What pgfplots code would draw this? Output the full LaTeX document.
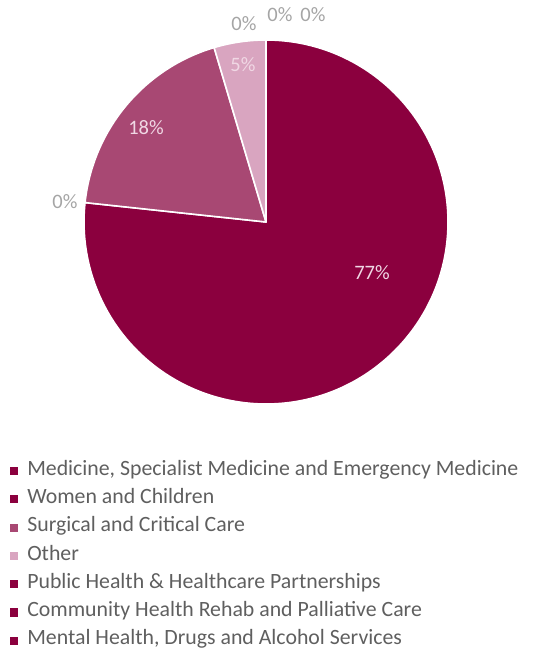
\documentclass[border=0pt]{standalone}
\usepackage{pgfplots}
\pgfplotsset{compat=1.18}
\usepackage{pgfplotstable}
\usepackage{fontspec}
\setmainfont{Carlito}
\definecolor{cMed}{RGB}{139,0,62}
\definecolor{cWom}{RGB}{139,0,62}
\definecolor{cSur}{RGB}{168,72,115}
\definecolor{cOth}{RGB}{217,165,192}
\definecolor{cPub}{RGB}{139,0,62}
\definecolor{cCom}{RGB}{139,0,62}
\definecolor{cMen}{RGB}{139,0,62}
\definecolor{legtext}{RGB}{95,95,95}
\definecolor{zerotext}{RGB}{165,165,165}
\definecolor{intext}{RGB}{240,215,228}

\pgfplotstableread{
idx value
0 76.7
1 0
2 18.7
3 4.6
4 0
5 0
6 0
}\piedata

\newcommand\slice[2]{%
  \fill[#2,draw=white,line width=1.6pt,line join=round]
    (axis cs:266,432) -- ++(\csname sA#1\endcsname:182pt)
    arc[start angle=\csname sA#1\endcsname, end angle=\csname eA#1\endcsname, radius=182pt] -- cycle;}

\newcommand\legsq[1]{\addlegendimage{legend image code/.code={\fill[#1] (0pt,-3.6pt) rectangle (7.2pt,3.6pt);}}}

\begin{document}
\begin{tikzpicture}
\xdef\cum{90}
\foreach \i in {0,...,6}{%
  \pgfplotstablegetelem{\i}{value}\of\piedata
  \pgfmathsetmacro\endang{\cum-3.6*\pgfplotsretval}%
  \expandafter\xdef\csname sA\i\endcsname{\cum}%
  \expandafter\xdef\csname eA\i\endcsname{\endang}%
  \xdef\cum{\endang}%
}
\begin{axis}[
  name=ax,
  width=544pt, height=654pt, scale only axis,
  xmin=0, xmax=544, ymin=0, ymax=654,
  hide axis, clip=false,
  legend style={
    at={(axis cs:10,193)}, anchor=north west,
    draw=none, fill=none, inner sep=0pt,
    font=\fontsize{21.8}{24}\selectfont, text=legtext,
    row sep=9.3pt,
    nodes={inner xsep=0pt, inner ysep=0pt, text height=14pt, text depth=5pt},
  },
  legend cell align=left,
]
\slice{0}{cMed}
\slice{2}{cSur}
\slice{3}{cOth}

\legsq{cMed}\addlegendentry{\hspace{9.5pt}Medicine, Specialist Medicine and Emergency Medicine}
\legsq{cWom}\addlegendentry{\hspace{9.5pt}Women and Children}
\legsq{cSur}\addlegendentry{\hspace{9.5pt}Surgical and Critical Care}
\legsq{cOth}\addlegendentry{\hspace{9.5pt}Other}
\legsq{cPub}\addlegendentry{\hspace{9.5pt}Public Health \& Healthcare Partnerships}
\legsq{cCom}\addlegendentry{\hspace{9.5pt}Community Health Rehab and Palliative Care}
\legsq{cMen}\addlegendentry{\hspace{9.5pt}Mental Health, Drugs and Alcohol Services}

\node[font=\fontsize{20.5}{24}\selectfont, text=intext] at (axis cs:372,381) {77\%};
\node[font=\fontsize{20.5}{24}\selectfont, text=intext] at (axis cs:146,526) {18\%};
\node[font=\fontsize{20.5}{24}\selectfont, text=intext] at (axis cs:243,589) {5\%};
\node[font=\fontsize{20.5}{24}\selectfont, text=zerotext] at (axis cs:65,452) {0\%};
\node[font=\fontsize{20.5}{24}\selectfont, text=zerotext] at (axis cs:244,630) {0\%};
\node[font=\fontsize{20.5}{24}\selectfont, text=zerotext] at (axis cs:280,639) {0\%};
\node[font=\fontsize{20.5}{24}\selectfont, text=zerotext] at (axis cs:313,639) {0\%};
\end{axis}
\pgfresetboundingbox
\path (ax.south west) rectangle (ax.north east);
\end{tikzpicture}
\end{document}
